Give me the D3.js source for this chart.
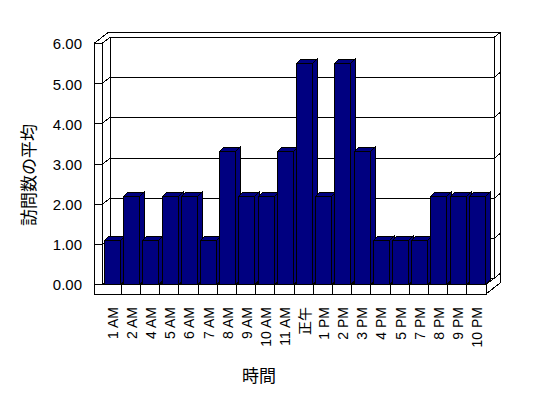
<!DOCTYPE html>
<html>
<head>
<meta charset="utf-8">
<script src="https://cdn.jsdelivr.net/npm/d3@7"></script>
<style>
  body { margin: 0; background: #fff; }
  svg { display: block; }
</style>
</head>
<body>
<svg id="chart" width="548" height="398"></svg>
<script>
// hours that had visits, and the mean visit count for each
var categories = ["1 AM", "2 AM", "4 AM", "5 AM", "6 AM", "7 AM", "8 AM", "9 AM", "10 AM", "11 AM",
                  "正午", "1 PM", "2 PM", "3 PM", "4 PM", "5 PM", "7 PM", "8 PM", "9 PM", "10 PM"];
var visits = [1.1, 2.2, 1.1, 2.2, 2.2, 1.1, 3.3, 2.2, 2.2, 3.3,
              5.5, 2.2, 5.5, 3.3, 1.1, 1.1, 1.1, 2.2, 2.2, 2.2];
var yTicks = [0, 1, 2, 3, 4, 5, 6];
var yTitle = "訪問数の平均";
var xTitle = "時間";

var FONT = "'Liberation Sans', 'Noto Sans CJK JP', sans-serif";
var NAVY = "#000080";

// front plane of the plot, depth offset to the back wall, wall thickness
var x0 = 102, x1 = 486;
var DX = 8, DY = 6;      // front -> back wall (inner face)
var BX = 6, BY = 5;      // back wall thickness
var WT = 8;              // left wall thickness
var FT = 9.5;            // floor thickness
var barDX = 4.5, barDY = 4.5;

var svg = d3.select("#chart");

var x = d3.scaleBand().domain(categories).range([x0, x1]);
var y = d3.scaleLinear().domain([0, 6]).range([284.5, 43.5]);

function c(v) { return Math.round(v - 0.5) + 0.5; }

var line = function (pts) { return "M" + pts.map(function (p) { return p[0] + "," + p[1]; }).join("L"); };
var poly = function (pts) { return line(pts) + "Z"; };

var frame = svg.append("g")
    .attr("fill", "#fff")
    .attr("stroke", "#000")
    .attr("stroke-width", 1)
    .attr("shape-rendering", "crispEdges");

var yTop = y(6), yBot = y(0);

// back wall inner face
frame.append("path").attr("d", poly([[x0 + DX, yTop - DY], [x1 + DX, yTop - DY], [x1 + DX, yBot - DY], [x0 + DX, yBot - DY]]));
// top of back wall / left wall (outer edge)
frame.append("path").attr("fill", "none")
    .attr("d", line([[x0 - WT, yTop], [x0 - WT + DX + BX, yTop - DY - BY], [x1 + DX + BX, yTop - DY - BY],
                     [x1 + DX + BX, yBot + FT - DY - BY], [x1, yBot + FT]]));
// left wall inner face
frame.append("path").attr("d", poly([[x0, yTop], [x0 + DX, yTop - DY], [x0 + DX, yBot - DY], [x0, yBot]]));
// left wall front edge
frame.append("path").attr("d", poly([[x0 - WT, yTop], [x0, yTop], [x0, yBot], [x0 - WT, yBot + FT]]));
// floor top face
frame.append("path").attr("d", poly([[x0, yBot], [x1, yBot], [x1 + DX, yBot - DY], [x0 + DX, yBot - DY]]));
// floor front face
frame.append("path").attr("d", poly([[x0 - WT, yBot], [x1, yBot], [x1, yBot + FT], [x0 - WT, yBot + FT]]));

// gridlines across the left wall, back wall and back wall edge
var grid = frame.append("g").attr("fill", "none");
yTicks.forEach(function (v) {
  var yy = c(y(v));
  grid.append("path").attr("d", line([[x0 - WT, yy], [x0, yy], [x0 + DX, yy - DY], [x1 + DX, yy - DY], [x1 + DX + BX, yy - DY - BY]]));
});

// category divisions on the floor
var bw = x.bandwidth();
d3.range(1, categories.length).forEach(function (i) {
  var bx = c(x0 + i * bw);
  grid.append("path").attr("d", line([[bx, yBot + FT], [bx, yBot], [bx + DX, yBot - DY]]));
});

// bars, left to right so each covers its neighbour's side face
var barW = bw * 0.83, barOff = bw * 0.13;
var bars = svg.append("g")
    .attr("stroke", "#000")
    .attr("fill", NAVY)
    .attr("shape-rendering", "crispEdges")
  .selectAll("g")
  .data(categories)
  .enter()
  .append("g");

bars.append("path").attr("d", function (d, i) {
  var bx2 = c(x(d) + barOff + barW), yt = c(y(visits[i]));
  return poly([[bx2, yt], [bx2 + barDX, yt - barDY], [bx2 + barDX, yBot - barDY], [bx2, yBot]]);
});
bars.append("path").attr("d", function (d, i) {
  var bx = c(x(d) + barOff), bx2 = c(x(d) + barOff + barW), yt = c(y(visits[i]));
  return poly([[bx, yt], [bx + barDX, yt - barDY], [bx2 + barDX, yt - barDY], [bx2, yt]]);
});
bars.append("path").attr("d", function (d, i) {
  var bx = c(x(d) + barOff), bx2 = c(x(d) + barOff + barW), yt = c(y(visits[i]));
  return poly([[bx, yt], [bx2, yt], [bx2, yBot], [bx, yBot]]);
});

// value axis labels
var gy = svg.append("g")
    .attr("transform", "translate(82,0)")
    .call(d3.axisLeft(y).tickValues(yTicks).tickFormat(d3.format(".2f")).tickSize(0).tickPadding(0));
gy.select(".domain").remove();
gy.attr("font-family", FONT).attr("font-size", 15);
gy.selectAll("text").attr("dy", "0.36em");

// category labels, rotated
var gx = svg.append("g")
    .attr("transform", "translate(1,307)")
    .call(d3.axisBottom(x).tickSize(0).tickPadding(0));
gx.select(".domain").remove();
gx.attr("font-family", FONT).attr("font-size", 14);
gx.selectAll("text")
    .attr("x", 0)
    .attr("y", 0)
    .attr("dy", "0.36em")
    .attr("text-anchor", "end")
    .attr("transform", "rotate(-90)");

// axis titles
svg.append("text")
    .attr("transform", "translate(29,175) rotate(-90)")
    .attr("text-anchor", "middle")
    .attr("dy", "0.35em")
    .attr("font-family", FONT)
    .attr("font-size", 17)
    .text(yTitle);

svg.append("text")
    .attr("x", 259)
    .attr("y", 376)
    .attr("text-anchor", "middle")
    .attr("dy", "0.35em")
    .attr("font-family", FONT)
    .attr("font-size", 17)
    .text(xTitle);
</script>
</body>
</html>
